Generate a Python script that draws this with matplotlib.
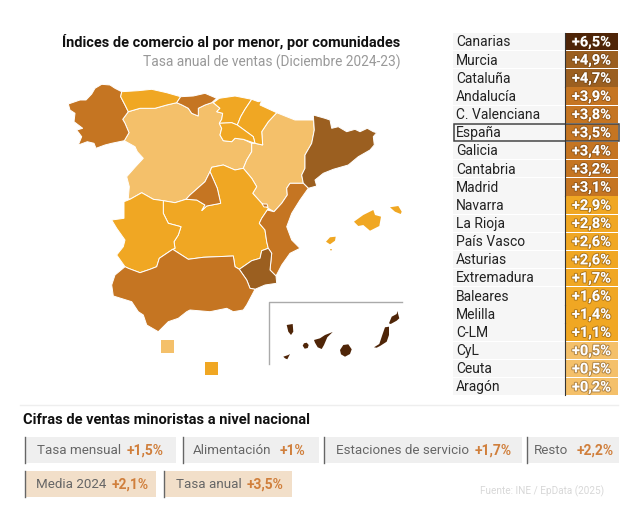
# -*- coding: utf-8 -*-
import matplotlib
matplotlib.use("Agg")
import matplotlib.pyplot as plt
from matplotlib.patches import Polygon, Rectangle
import matplotlib.patheffects as pe

plt.rcParams['font.family'] = ['Roboto', 'DejaVu Sans']

# tabla de comunidades
comunidades = ["Canarias", "Murcia", "Cataluña", "Andalucía", "C. Valenciana", "España", "Galicia",
               "Cantabria", "Madrid", "Navarra", "La Rioja", "País Vasco", "Asturias", "Extremadura",
               "Baleares", "Melilla", "C-LM", "CyL", "Ceuta", "Aragón"]
tasas = [6.5, 4.9, 4.7, 3.9, 3.8, 3.5, 3.4, 3.2, 3.1, 2.9, 2.8, 2.6, 2.6, 1.7, 1.6, 1.4, 1.1, 0.5, 0.5, 0.2]

# cifras nacionales, dos filas
fila1_nombres = ["Tasa mensual", "Alimentación", "Estaciones de servicio", "Resto"]
fila1_valores = ["+1,5%", "+1%", "+1,7%", "+2,2%"]
fila2_nombres = ["Media 2024", "Tasa anual"]
fila2_valores = ["+2,1%", "+3,5%"]

# contornos del mapa en pixeles de la imagen
galicia = [(68.3,104),(80,100),(86,100),(91.7,94),(95,88.3),(101.7,84.3),(110,85),(115,88.3),(121.7,91.7),(120.7,96.7),(125,105),(128.3,111.7),(122.7,119.3),(125,123.3),(129,132.7),(124.3,140.7),(111.7,143.3),(105,145),(96,148.3),(94,143.3),(87.3,141.7),(78.3,145),(81.7,136.7),(76.7,130),(82.7,128.3),(74,121.7),(75,113.3),(70,110)]
asturias = [(121.7,91.7),(138,90.7),(151.7,89.3),(166.7,92.7),(180.7,96.7),(176.7,102.7),(166.7,105),(155,108.3),(140,108.3),(128.3,111.7),(125,105),(120.7,96.7)]
cantabria = [(176.7,102.7),(180.7,96.7),(193.3,96),(205,93.3),(216.7,98.3),(211.7,102.7),(205,105),(198.3,108.3),(198.3,116),(191.7,113.3),(188.3,108.3),(182,105)]
pais_vasco = [(213.3,102.7),(219.3,98.3),(235,96),(251.7,99.3),(245,109.3),(240.7,116.7),(237.3,125),(231.7,122.7),(219.3,123.3),(221.7,119.3),(222.7,113.3),(216.7,111.7),(220,108.3)]
navarra = [(251.7,99.3),(258.3,101.7),(261.7,100.7),(260,105),(276.7,112.7),(268.3,121.7),(261.7,131.7),(262.7,145),(255,143.3),(253.3,136.7),(237.3,125),(240.7,116.7),(245,109.3)]
la_rioja = [(219.3,123.3),(231.7,122.7),(237.3,125),(253.3,136.7),(255,143.3),(243.3,139.3),(235,138.3),(231.7,141.7),(223.3,140.7),(220,135),(221.7,128.3)]
cyl = [(210,171.7),(205,181.7),(190,195),(186,199.3),(175,202.7),(163.3,200.7),(153.3,199.3),(141.7,192.7),(130,199.3),(128.3,198.3),(129.3,186.7),(126.7,176.7),(135,167.3),(143.3,158.3),(137.3,151.7),(135,146.7),(124.3,140.7),(129,132.7),(125,123.3),(122.7,119.3),(128.3,111.7),(140,108.3),(155,108.3),(166.7,105),(176.7,102.7),(182,105),(188.3,108.3),(191.7,113.3),(198.3,116),(198.3,108.3),(205,105),(211.7,102.7),(213.3,102.7),(220,108.3),(216.7,111.7),(222.7,113.3),(221.7,119.3),(219.3,123.3),(221.7,128.3),(220,135),(223.3,140.7),(231.7,141.7),(235,138.3),(243.3,139.3),(251.7,143.3),(251.7,151.7),(246.7,160),(243.3,168.3),(235,170),(223.3,165),(211.7,167.3)]
trevino = [(226.7,117.3),(232.7,116.7),(233.3,120.7),(228.3,120.7)]
aragon = [(276.7,112.7),(286.7,116.7),(295,120),(313.3,120),(314.3,130),(311.7,143.3),(305,155),(305,168.3),(301.7,175),(303.3,183.3),(290,183.3),(286.7,188.3),(287.3,195),(281.7,203.3),(274,211.7),(268.3,208.3),(261.7,203.3),(252.7,193.3),(256.7,186.7),(251.7,178.3),(243.3,168.3),(246.7,160),(251.7,151.7),(251.7,143.3),(255,143.3),(262.7,145),(261.7,131.7),(268.3,121.7)]
cataluna = [(313.3,115),(325,118.3),(330,120),(331.7,128.3),(338.3,126.7),(346.7,131.7),(355,129.3),(360,131.7),(367.3,128.3),(373.3,131.7),(376.7,132.7),(373.3,136.7),(374.3,145),(370,150),(358.3,156.7),(348.3,165),(333.3,169.3),(323.3,173.3),(315,180),(316.7,186),(308.3,188.3),(303.3,183.3),(301.7,175),(305,168.3),(305,155),(311.7,143.3),(314.3,130)]
valencia = [(286.7,188.3),(290,183.3),(303.3,183.3),(308.3,188.3),(300,200),(291.7,213.3),(286.7,226.7),(291.7,240),(300,248.3),(290,253.3),(281.7,265),(276,276),(270,270),(271.7,253.3),(268.3,248.3),(266.7,241.7),(265,230),(259.3,223.3),(261.7,218.3),(267.3,210),(274,211.7),(281.7,203.3),(287.3,195)]
ademuz = [(262,204),(267,204),(268,207),(264,207)]
murcia = [(239.3,269.3),(251.7,260.7),(260,258.3),(261.7,250.7),(268.3,248.3),(271.7,253.3),(270,270),(276,276),(276.7,283.3),(265,285),(255,289.3),(250,288.3),(246.7,280)]
andalucia = [(111.7,285),(115,275),(125,266.7),(128.3,268.3),(140,272.7),(150,269.3),(156.7,266.7),(159.3,258.3),(172.7,249.3),(188.3,259.3),(203.3,257.3),(233.3,256),(235,266.7),(239.3,269.3),(246.7,280),(250,288.3),(255,289.3),(246.7,305),(243.3,310),(233.3,311.7),(226.7,308.3),(210,311.7),(190,310),(186.7,311.7),(178.3,318.3),(168.3,321.7),(158.3,331.7),(146.7,325),(143.3,315),(138.3,311.7),(131.7,301.7),(113.3,296)]
extremadura = [(111.7,220),(124,218.3),(124,201.7),(130,199.3),(141.7,192.7),(153.3,199.3),(163.3,200.7),(163.3,213.3),(168.3,223.3),(181,226.7),(178.3,235),(174,241.7),(175,248.3),(172.7,249.3),(159.3,258.3),(156.7,266.7),(150,269.3),(140,272.7),(128.3,268.3),(125,266.7),(116.7,255),(123.3,246.7),(125,240),(116.7,228.3)]
clm = [(211.7,167.3),(223.3,165),(235,170),(243.3,168.3),(251.7,178.3),(256.7,186.7),(252.7,193.3),(261.7,203.3),(268.3,208.3),(267.3,210),(261.7,218.3),(259.3,223.3),(265,230),(266.7,241.7),(268.3,248.3),(261.7,250.7),(260,258.3),(251.7,260.7),(239.3,269.3),(235,266.7),(233.3,256),(203.3,257.3),(188.3,259.3),(172.7,249.3),(175,248.3),(174,241.7),(178.3,235),(181,226.7),(168.3,223.3),(163.3,213.3),(163.3,200.7),(175,202.7),(186,199.3),(196.7,200),(205,205),(201.7,210.7),(206.7,206),(220.7,203.3),(217.3,188.3),(210,171.7)]
madrid = [(210,171.7),(217.3,188.3),(220.7,203.3),(206.7,206),(201.7,210.7),(205,205),(196.7,200),(186,199.3),(190,195),(205,181.7)]
baleares = [
    [(354,221.7),(363.3,215),(373.3,210),(375,215),(381,216.7),(379.3,226),(370,230.7),(363.3,225),(358.3,226)],
    [(390,207.3),(398.3,206),(401.7,211.7),(400.7,214),(395,211.7)],
    [(326,241.7),(330,237.3),(335.7,236.7),(335,240.7),(330,244.3)],
    [(330,249),(332,249),(331,251)],
]
canarias = [
    [(286.7,325),(292.7,324),(293.3,331.7),(291,335),(288.3,331.7)],
    [(302.7,345.7),(304,343.3),(306.7,342.7),(308.7,345),(307.7,348),(304.7,348.7)],
    [(314,340),(320,338.3),(325,335),(332.7,332),(327.3,337.3),(324,345),(321.7,349),(317.7,347.3),(315,342.7)],
    [(340,350),(343.3,345),(348.3,344.3),(351.7,349.3),(350,354),(345,356.7),(341,354.3)],
    [(374,347.3),(379.3,344),(382.3,335),(385,327.3),(389,326.7),(389,335),(386.7,341.7),(380,346),(376.7,347.7)],
    [(389,323.3),(391.7,316.7),(396.7,314),(397.3,311),(399.3,318.3),(396.7,320.7),(390.7,324)],
    [(283.3,356.7),(288.3,355),(290,354),(287.3,359.3),(285,358.3)],
]

regiones = {
    "CyL": [cyl, trevino], "Aragón": [aragon], "C-LM": [clm], "Extremadura": [extremadura], "Galicia": [galicia],
    "Asturias": [asturias], "Cantabria": [cantabria], "País Vasco": [pais_vasco], "Navarra": [navarra],
    "La Rioja": [la_rioja], "Cataluña": [cataluna], "C. Valenciana": [valencia, ademuz], "Murcia": [murcia],
    "Andalucía": [andalucia], "Madrid": [madrid], "Baleares": baleares, "Canarias": canarias,
}


def color_tasa(v):
    if v >= 6:
        return "#4f2508"
    if v >= 4:
        return "#9b5f20"
    if v >= 3:
        return "#c57522"
    if v >= 1:
        return "#f0a723"
    return "#f4c06a"


def etiqueta(v):
    return "+" + str(v).replace(".", ",") + "%"


color_de = dict(zip(comunidades, [color_tasa(v) for v in tasas]))

fig = plt.figure(figsize=(6.39, 5.17), dpi=100)
ax = fig.add_axes([0, 0, 1, 1])
ax.set_xlim(0, 639)
ax.set_ylim(517, 0)
ax.axis("off")

# titulos
ax.text(62, 42, "Índices de comercio al por menor, por comunidades", fontsize=10.45, fontweight="bold",
        color="#111111", va="center")
ax.text(401, 62.5, "Tasa anual de ventas (Diciembre 2024-23)", fontsize=9.9, color="#999999", va="center", ha="right")

# mapa
for nombre, partes in regiones.items():
    for puntos in partes:
        borde = "none" if nombre in ("Baleares", "Canarias") else "white"
        ax.add_patch(Polygon(puntos, closed=True, facecolor=color_de[nombre], edgecolor=borde, linewidth=0.7))

# Ceuta y Melilla
ax.add_patch(Rectangle((161, 340), 13, 13, facecolor=color_de["Ceuta"], edgecolor="none"))
ax.add_patch(Rectangle((205, 362), 13, 13, facecolor=color_de["Melilla"], edgecolor="none"))

# recuadro de Canarias
ax.plot([269.3, 269.3, 402], [364, 301.5, 301.5], color="#aaaaaa", linewidth=1)

# tabla
for i, (nombre, v) in enumerate(zip(comunidades, tasas)):
    y = 41.6 + i * 18.16
    ax.add_patch(Rectangle((453, y - 8.7), 112, 17.4, facecolor="#f6f6f6", edgecolor="none"))
    ax.add_patch(Rectangle((565, y - 8.7), 53, 17.4, facecolor=color_tasa(v), edgecolor="none"))
    ax.plot([565, 565], [y - 8.7, y + 8.7], color="#333333", linewidth=0.8)
    ax.text(456, y + 0.8, nombre, fontsize=10, color="#222222", va="center")
    ax.text(591.5, y + 0.8, etiqueta(v), fontsize=10.5, fontweight="bold", color="white", va="center", ha="center",
            path_effects=[pe.withStroke(linewidth=1.5, foreground="#55330f66")])
    if nombre == "España":
        ax.add_patch(Rectangle((453.5, y - 8.7), 165, 17.4, facecolor="none", edgecolor="#444444", linewidth=1.1))

# parte de abajo
ax.plot([20, 618], [405, 405], color="#eeeeee", linewidth=1)
ax.text(23, 420, "Cifras de ventas minoristas a nivel nacional", fontsize=10.5, fontweight="bold", color="#111111",
        va="center")


def caja(x0, x1, y0, y1, nombre, valor, x_nombre, x_valor, fondo):
    ax.add_patch(Rectangle((x0, y0), x1 - x0, y1 - y0, facecolor=fondo, edgecolor="none"))
    ax.plot([x0, x0], [y0, y1], color="#666666", linewidth=1)
    ax.text(x_nombre, (y0 + y1) / 2 + 0.6, nombre, fontsize=9.6, color="#666666", va="center")
    ax.text(x_valor, (y0 + y1) / 2 + 0.6, valor, fontsize=10, fontweight="bold", color="#d07f3c", va="center")


cajas1 = [(25, 176, 37, 127), (183, 319, 193, 280), (324, 522, 336, 475), (527, 619, 534, 577)]
for (x0, x1, xn, xv), nombre, valor in zip(cajas1, fila1_nombres, fila1_valores):
    caja(x0, x1, 437, 463, nombre, valor, xn, xv, "#efefef")

cajas2 = [(25, 156, 36, 112), (164, 292, 176, 247)]
for (x0, x1, xn, xv), nombre, valor in zip(cajas2, fila2_nombres, fila2_valores):
    caja(x0, x1, 471, 497, nombre, valor, xn, xv, "#f2dfc9")

ax.text(604, 491, "Fuente: INE / EpData (2025)", fontsize=7.2, color="#d8d8d8", va="center", ha="right")

plt.savefig("out.png", dpi=100)
